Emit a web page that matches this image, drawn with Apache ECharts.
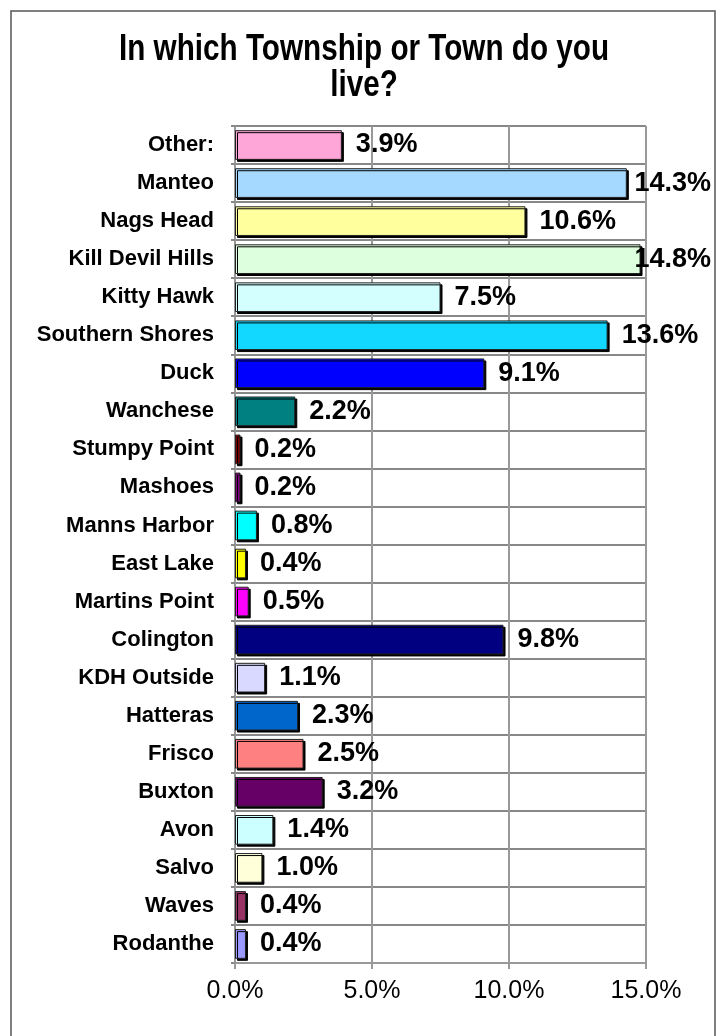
<!DOCTYPE html>
<html>
<head>
<meta charset="utf-8">
<script src="https://cdn.jsdelivr.net/npm/echarts@6/dist/echarts.min.js"></script>
<style>
html,body{margin:0;padding:0;background:#fff;}
#c{width:724px;height:1036px;}
</style>
</head>
<body>
<div id="c"></div>
<script>
const categories = ["Other:", "Manteo", "Nags Head", "Kill Devil Hills", "Kitty Hawk", "Southern Shores", "Duck", "Wanchese", "Stumpy Point", "Mashoes", "Manns Harbor", "East Lake", "Martins Point", "Colington", "KDH Outside", "Hatteras", "Frisco", "Buxton", "Avon", "Salvo", "Waves", "Rodanthe"];
const values = [3.9, 14.3, 10.6, 14.8, 7.5, 13.6, 9.1, 2.2, 0.2, 0.2, 0.8, 0.4, 0.5, 9.8, 1.1, 2.3, 2.5, 3.2, 1.4, 1.0, 0.4, 0.4];
const barColors = ["#FFA6D9", "#A6D9FF", "#FFFF9E", "#DDFFDD", "#D4FFFF", "#12D8FF", "#0000FF", "#008080", "#800000", "#800080", "#00FFFF", "#FFFF00", "#FF00FF", "#000080", "#D9D9FF", "#0066CC", "#FF8080", "#660066", "#CCFFFF", "#FFFFD9", "#993366", "#9999FF"];
const xTicks = [0, 5, 10, 15];
const titleLines = ["In which Township or Town do you", "live?"];

const titleFont = 'bold 37px "Liberation Sans", Arial, sans-serif';
const mctx = document.createElement('canvas').getContext('2d');
mctx.font = titleFont;
const titleScale = 490 / mctx.measureText(titleLines[0]).width;

const chart = echarts.init(document.getElementById('c'), null, {renderer: 'canvas'});
const grid = {left: 235, right: 78, top: 126, bottom: 73};
chart.setOption({
  animation: false,
  backgroundColor: '#fff',
  graphic: [{
    type: 'polyline',
    shape: {points: [[11, 1036], [11, 11], [715, 11], [715, 1036]]},
    style: {stroke: '#555', lineWidth: 1.5, fill: null},
    silent: true
  }].concat(titleLines.map((t, i) => ({
    type: 'text',
    x: 364,
    y: 50 + i * 36,
    scaleX: titleScale,
    silent: true,
    style: {text: t, font: titleFont, fill: '#000', textAlign: 'center', textVerticalAlign: 'middle'}
  }))),
  grid: grid,
  xAxis: {
    type: 'value',
    min: xTicks[0],
    max: xTicks[xTicks.length - 1],
    interval: 5,
    axisLine: {show: true, lineStyle: {color: '#999', width: 2}},
    axisTick: {show: true, length: 6, lineStyle: {color: '#999', width: 2}},
    splitLine: {show: true, lineStyle: {color: '#999', width: 2}},
    axisLabel: {formatter: v => v.toFixed(1) + '%', fontFamily: '"Liberation Sans", Arial, sans-serif', fontSize: 25, color: '#000', margin: 16}
  },
  yAxis: {
    type: 'category',
    data: categories,
    inverse: true,
    axisLine: {show: true, lineStyle: {color: '#999', width: 2}},
    axisTick: {show: true, length: 4, lineStyle: {color: '#888', width: 2}},
    splitLine: {show: true, lineStyle: {color: '#888', width: 2}},
    axisLabel: {fontFamily: '"Liberation Sans", Arial, sans-serif', fontSize: 22, fontWeight: 'bold', color: '#000', margin: 21}
  },
  series: [{
    type: 'bar',
    data: values.map((v, i) => ({value: v, itemStyle: {color: barColors[i]}})),
    barCategoryGap: '22%',
    itemStyle: {borderColor: '#222', borderWidth: 1, shadowColor: '#000', shadowOffsetX: 2, shadowOffsetY: 2, shadowBlur: 0},
    label: {
      show: true,
      position: 'right',
      distance: 14,
      formatter: p => p.value.toFixed(1) + '%',
      fontFamily: '"Liberation Sans", Arial, sans-serif',
      fontSize: 27,
      fontWeight: 'bold',
      color: '#000'
    },
    labelLayout: p => ({
      x: Math.min(p.labelRect.x, 711 - p.labelRect.width),
      y: p.labelRect.y + p.labelRect.height / 2,
      align: 'left',
      verticalAlign: 'middle'
    })
  }]
});
</script>
</body>
</html>
